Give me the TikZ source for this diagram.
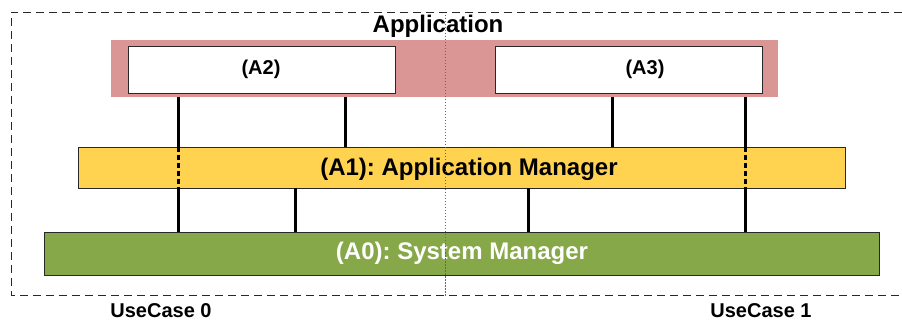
\documentclass[tikz,border=0pt]{standalone}
\usepackage{fontspec}
\setmainfont{Liberation Sans}
\frenchspacing
\usetikzlibrary{calc}
\definecolor{appred}{RGB}{217,150,148}
\definecolor{mgryellow}{RGB}{255,211,79}
\definecolor{sysgreen}{RGB}{134,168,72}
\definecolor{edge}{RGB}{40,40,40}
\tikzset{
  layer/.style={draw=edge, line width=0.9pt, inner sep=0pt, outer sep=0pt, anchor=north west},
  band/.style={inner sep=0pt, outer sep=0pt, anchor=north west},
  link/.style={line width=3pt, black},
  hidden link/.style={line width=3pt, black, dash pattern=on 5pt off 3pt},
  bigtext/.style={font=\fontsize{24}{28}\selectfont\bfseries, anchor=base, inner sep=0pt},
  smalltext/.style={font=\fontsize{20}{24}\selectfont\bfseries, anchor=base, inner sep=0pt},
}
\begin{document}
\begin{tikzpicture}[x=1pt, y=-1pt]
  \useasboundingbox (0,0) rectangle (902,320);

  % application boundary (open on the right)
  \draw[edge, line width=0.9pt, dash pattern=on 8pt off 5pt]
    (902,12) -- (11,12) -- (11,295) -- (902,295);

  % application layer with its two components
  \node[band, fill=appred, minimum width=667pt, minimum height=57pt] (app) at (111,40) {};
  \node[layer, fill=white, minimum width=267pt, minimum height=47pt] (a2) at (128,46) {};
  \node[layer, fill=white, minimum width=267pt, minimum height=47pt] (a3) at (495,46) {};

  % managers
  \node[layer, fill=mgryellow, minimum width=767pt, minimum height=41pt] (a1) at (78,147) {};
  \node[layer, fill=sysgreen, minimum width=835pt, minimum height=43pt] (a0) at (44,232) {};

  % interface positions
  \coordinate (x1) at (178,0);
  \coordinate (x2) at (345,0);
  \coordinate (x3) at (612,0);
  \coordinate (x4) at (745,0);
  \coordinate (x5) at (295,0);
  \coordinate (x6) at (528,0);

  % application -> application manager
  \draw[link] (app.south -| x1) -- (a1.north -| x1);
  \draw[link] (app.south -| x2) -- (a1.north -| x2);
  \draw[link] (app.south -| x3) -- (a1.north -| x3);
  \draw[link] (app.south -| x4) -- (a1.north -| x4);
  % pass-through across the application manager
  \draw[hidden link] (a1.north -| x1) -- (a1.south -| x1);
  \draw[hidden link] (a1.north -| x4) -- (a1.south -| x4);
  % application manager -> system manager
  \draw[link] (a1.south -| x1) -- (a0.north -| x1);
  \draw[link] (a1.south -| x5) -- (a0.north -| x5);
  \draw[link] (a1.south -| x6) -- (a0.north -| x6);
  \draw[link] (a1.south -| x4) -- (a0.north -| x4);

  % labels
  \node[bigtext] (tapp) at (438,32.5) {Application};
  \node[smalltext] (ta2) at (261,75) {(A2)};
  \node[smalltext] (ta3) at (645,75) {(A3)};
  \node[bigtext] (ta1) at (469,176) {(A1): Application Manager};
  \node[bigtext, text=white] (ta0) at (462,260) {(A0): System Manager};
  \node[smalltext] (uc0) at (161,317) {UseCase 0};
  \node[smalltext] (uc1) at (761,317) {UseCase 1};

  % use-case separator
  \draw[black!60, line width=0.8pt, dash pattern=on 1.5pt off 1.5pt] (445,15) -- (445,296);
\end{tikzpicture}
\end{document}
